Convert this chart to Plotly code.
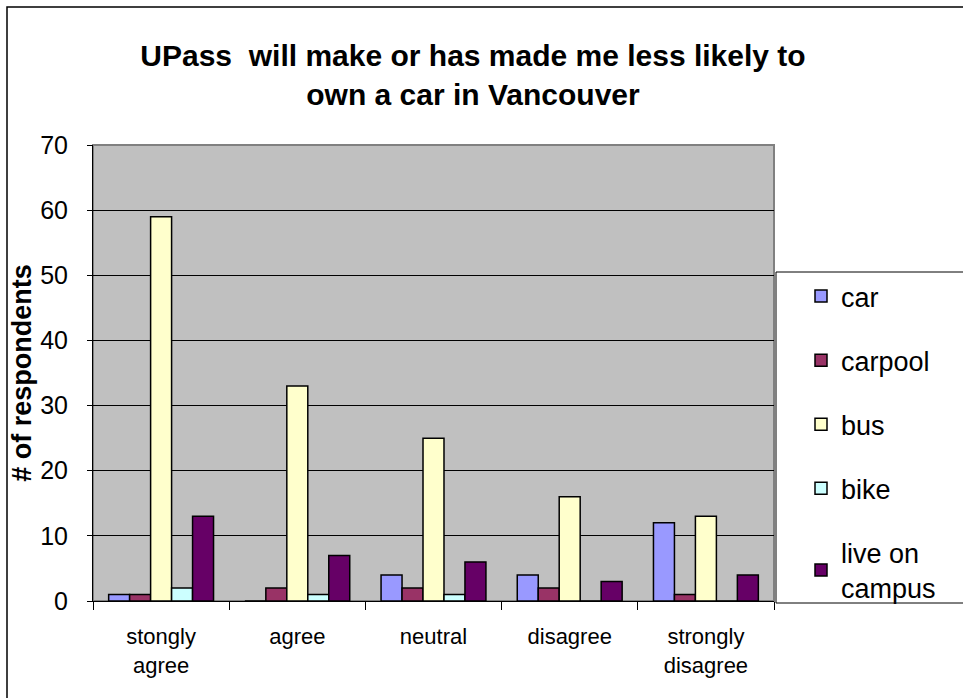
import plotly.graph_objects as go

categories = ["stongly<br>agree", "agree", "neutral", "disagree", "strongly<br>disagree"]
series_names = ["car", "carpool", "bus", "bike", "live on<br>campus"]
car = [1, 0, 4, 4, 12]
carpool = [1, 2, 2, 2, 1]
bus = [59, 33, 25, 16, 13]
bike = [2, 1, 1, 0, 0]
live_on_campus = [13, 7, 6, 3, 4]
y_ticks = [0, 10, 20, 30, 40, 50, 60, 70]

series_values = [car, carpool, bus, bike, live_on_campus]
colors = ["#9999FF", "#993366", "#FFFFCC", "#CCFFFF", "#660066"]

W, H = 963, 698
L, R, T, B = 93, 774, 145, 601

fig = go.Figure()
for i, (name, vals) in enumerate(zip(series_names, series_values)):
    fig.add_trace(go.Bar(
        x=categories, y=vals, name=name,
        marker=dict(color=colors[i], line=dict(color="black", width=1.5)),
        legendgroup=f"g{i}",
    ))

font_family = "Arial, Liberation Sans, sans-serif"

def px2x(px):
    return (px - L) / (R - L)

def px2y(py):
    return (B - py) / (B - T)

fig.update_layout(
    width=W, height=H,
    margin=dict(l=L, r=W - R, t=T, b=H - B, pad=0, autoexpand=False),
    paper_bgcolor="white",
    plot_bgcolor="#C0C0C0",
    barmode="group",
    bargap=0.23,
    bargroupgap=0,
    font=dict(family=font_family, color="black"),
    title=dict(
        text="UPass  will make or has made me less likely to<br>own a car in Vancouver",
        font=dict(family=font_family, size=30, color="black", weight="bold"),
        x=473 / W, xanchor="center", xref="container",
        y=1 - 66 / H, yanchor="middle", yref="container",
    ),
    showlegend=True,
    legend=dict(
        xref="container", yref="container",
        x=776 / W, xanchor="left",
        y=1 - 272 / H, yanchor="top",
        bgcolor="rgba(0,0,0,0)", borderwidth=0,
        font=dict(family=font_family, size=27, color="black"),
        tracegroupgap=26,
        indentation=25,
        itemclick=False,
    ),
    xaxis=dict(
        showgrid=False,
        showline=True, linecolor="black", linewidth=1,
        ticks="outside", ticklen=8, tickcolor="black", tickwidth=1,
        tickson="boundaries",
        tickfont=dict(family=font_family, size=22, color="black"),
        ticklabelstandoff=16,
    ),
    yaxis=dict(
        range=[0, 70],
        tickvals=y_ticks,
        showgrid=True, gridcolor="black", gridwidth=1,
        showline=True, linecolor="black", linewidth=1,
        ticks="outside", ticklen=5, tickcolor="black", tickwidth=1,
        tickfont=dict(family=font_family, size=25, color="black"),
        ticklabelstandoff=14,
        zeroline=False,
        title=dict(
            text="# of respondents",
            font=dict(family=font_family, size=27, color="black", weight="bold"),
            standoff=0,
        ),
    ),
    shapes=[
        dict(type="rect", xref="paper", yref="paper",
             x0=0, x1=1, y0=0, y1=1,
             line=dict(color="#808080", width=2), layer="below"),
        dict(type="rect", xref="paper", yref="paper",
             x0=px2x(776), x1=px2x(1100), y0=px2y(603), y1=px2y(272),
             line=dict(color="black", width=1), fillcolor="white",
             layer="below"),
        dict(type="rect", xref="paper", yref="paper",
             x0=px2x(7), x1=px2x(1100), y0=px2y(800), y1=px2y(7),
             line=dict(color="black", width=1.5), fillcolor="rgba(0,0,0,0)",
             layer="above"),
    ],
)

fig.write_html(
    "out.html",
    config={"displayModeBar": False},
    post_script="document.body.style.margin='0';document.body.style.overflow='hidden';",
)
